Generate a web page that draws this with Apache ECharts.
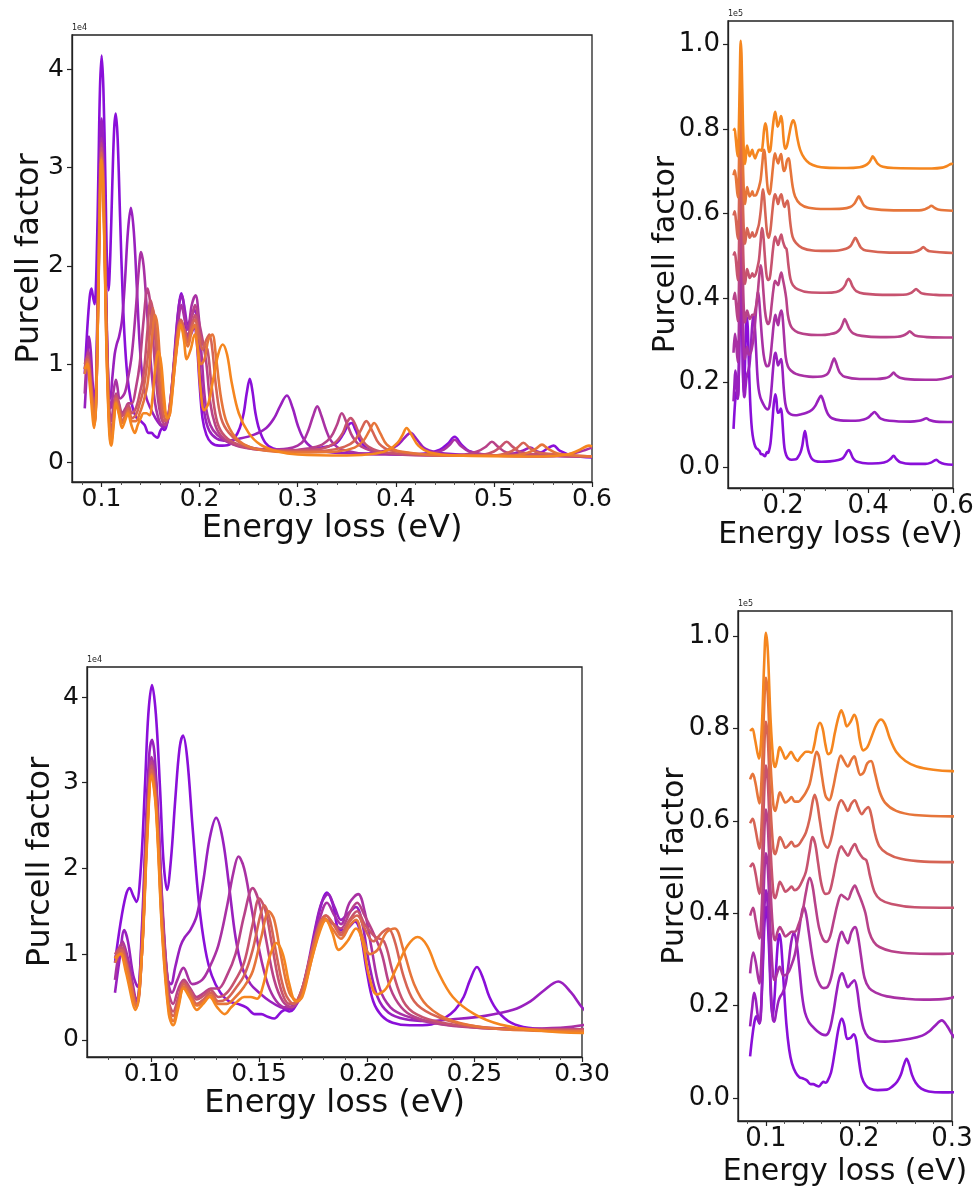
<!DOCTYPE html>
<html><head><meta charset="utf-8">
<script src="https://cdn.jsdelivr.net/npm/echarts@6/dist/echarts.min.js"></script>
<style>html,body{margin:0;padding:0;background:#fff}#c{width:977px;height:1193px}</style>
</head><body><div id="c"></div>
<script>
// Purcell factor in units of 1e4, energy loss in eV — eight spectra (purple -> orange)
const S0 = [[0.083,0.9],[0.0855,1.35],[0.088,1.68],[0.0898,1.77],[0.0915,1.68],[0.093,1.61],[0.095,2.0],[0.097,3.0],[0.0985,3.8],[0.1002,4.14],[0.102,3.8],[0.104,2.9],[0.1055,2.1],[0.1072,1.75],[0.109,2.1],[0.111,2.8],[0.113,3.4],[0.1146,3.55],[0.1165,3.3],[0.119,2.5],[0.122,1.6],[0.125,1.05],[0.128,0.75],[0.132,0.55],[0.136,0.45],[0.14,0.42],[0.144,0.38],[0.148,0.3],[0.151,0.3],[0.154,0.27],[0.157,0.25],[0.16,0.32],[0.162,0.35],[0.164,0.33],[0.166,0.36],[0.17,0.55],[0.174,1.0],[0.178,1.5],[0.1815,1.72],[0.184,1.6],[0.1875,1.28],[0.191,1.3],[0.1945,1.38],[0.197,1.25],[0.2,0.8],[0.203,0.45],[0.207,0.28],[0.212,0.2],[0.22,0.17],[0.23,0.18],[0.236,0.25],[0.241,0.35],[0.245,0.5],[0.248,0.7],[0.2512,0.85],[0.254,0.72],[0.257,0.5],[0.261,0.33],[0.267,0.2],[0.275,0.14],[0.29,0.12],[0.31,0.13],[0.33,0.16],[0.34,0.2],[0.346,0.28],[0.351,0.37],[0.355,0.4],[0.359,0.33],[0.365,0.2],[0.375,0.12],[0.4,0.08],[0.43,0.09],[0.445,0.13],[0.453,0.19],[0.46,0.26],[0.467,0.18],[0.476,0.11],[0.5,0.07],[0.535,0.07],[0.548,0.1],[0.556,0.15],[0.561,0.17],[0.567,0.12],[0.58,0.07],[0.6,0.05]];
const S1 = [[0.083,0.55],[0.0852,0.95],[0.0873,1.28],[0.089,1.15],[0.0915,0.75],[0.0935,0.62],[0.0955,1.3],[0.0975,2.6],[0.099,3.35],[0.1002,3.5],[0.1015,3.3],[0.1035,2.4],[0.1055,1.3],[0.1075,0.7],[0.109,0.65],[0.111,0.85],[0.1135,1.1],[0.1155,1.2],[0.118,1.28],[0.121,1.45],[0.124,1.85],[0.127,2.35],[0.13,2.59],[0.133,2.35],[0.136,1.8],[0.139,1.2],[0.142,0.85],[0.146,0.65],[0.15,0.55],[0.155,0.45],[0.16,0.38],[0.164,0.36],[0.168,0.45],[0.172,0.8],[0.176,1.3],[0.179,1.6],[0.182,1.7],[0.185,1.55],[0.188,1.4],[0.1915,1.48],[0.195,1.55],[0.198,1.35],[0.201,0.9],[0.205,0.5],[0.21,0.32],[0.218,0.24],[0.228,0.22],[0.24,0.24],[0.255,0.28],[0.268,0.35],[0.276,0.45],[0.282,0.57],[0.289,0.68],[0.295,0.55],[0.3,0.38],[0.306,0.24],[0.315,0.15],[0.335,0.1],[0.37,0.09],[0.39,0.12],[0.401,0.17],[0.409,0.25],[0.415,0.3],[0.421,0.24],[0.43,0.14],[0.45,0.09],[0.5,0.07],[0.52,0.09],[0.53,0.12],[0.537,0.15],[0.544,0.11],[0.56,0.07],[0.6,0.06]];
const S2 = [[0.083,0.7],[0.0865,1.15],[0.089,0.95],[0.093,0.48],[0.0955,1.2],[0.098,2.7],[0.1,3.3],[0.102,3.0],[0.105,1.6],[0.1075,0.7],[0.1095,0.55],[0.112,0.7],[0.1148,0.84],[0.119,0.65],[0.1235,0.7],[0.127,0.85],[0.131,1.1],[0.135,1.55],[0.138,1.95],[0.1404,2.14],[0.143,2.0],[0.146,1.6],[0.15,1.05],[0.154,0.65],[0.158,0.45],[0.162,0.38],[0.166,0.4],[0.17,0.6],[0.174,1.0],[0.178,1.4],[0.1815,1.6],[0.185,1.45],[0.188,1.35],[0.192,1.6],[0.196,1.7],[0.199,1.5],[0.202,1.1],[0.206,0.6],[0.211,0.38],[0.218,0.28],[0.23,0.2],[0.25,0.15],[0.27,0.13],[0.29,0.14],[0.3,0.17],[0.306,0.22],[0.311,0.33],[0.316,0.48],[0.32,0.57],[0.324,0.48],[0.329,0.33],[0.334,0.22],[0.345,0.13],[0.38,0.08],[0.42,0.08],[0.44,0.1],[0.449,0.13],[0.455,0.18],[0.46,0.23],[0.466,0.17],[0.475,0.11],[0.5,0.07],[0.55,0.06],[0.575,0.08],[0.588,0.11],[0.6,0.15]];
const S3 = [[0.083,0.95],[0.0862,1.12],[0.089,0.85],[0.093,0.45],[0.0955,1.1],[0.098,2.6],[0.1,3.25],[0.102,2.9],[0.105,1.5],[0.108,0.55],[0.11,0.42],[0.1125,0.6],[0.115,0.7],[0.118,0.6],[0.121,0.5],[0.1245,0.55],[0.1275,0.6],[0.131,0.6],[0.135,0.75],[0.139,1.0],[0.143,1.45],[0.147,1.77],[0.15,1.6],[0.153,1.2],[0.157,0.7],[0.161,0.45],[0.165,0.38],[0.169,0.5],[0.173,0.85],[0.177,1.2],[0.181,1.4],[0.1845,1.35],[0.188,1.3],[0.192,1.48],[0.1955,1.6],[0.199,1.45],[0.203,1.25],[0.207,1.0],[0.211,0.6],[0.216,0.38],[0.222,0.27],[0.235,0.18],[0.26,0.13],[0.29,0.12],[0.31,0.14],[0.325,0.18],[0.334,0.26],[0.34,0.38],[0.345,0.5],[0.35,0.4],[0.356,0.26],[0.365,0.16],[0.385,0.1],[0.43,0.07],[0.47,0.08],[0.483,0.11],[0.492,0.16],[0.498,0.21],[0.504,0.16],[0.513,0.1],[0.54,0.07],[0.6,0.06]];
const S4 = [[0.083,1.0],[0.0858,1.08],[0.0885,0.9],[0.093,0.42],[0.0955,1.0],[0.098,2.5],[0.1,3.2],[0.102,2.85],[0.105,1.4],[0.108,0.45],[0.11,0.33],[0.1125,0.5],[0.115,0.68],[0.118,0.58],[0.121,0.47],[0.1245,0.52],[0.1275,0.58],[0.131,0.5],[0.135,0.55],[0.139,0.7],[0.143,0.9],[0.147,1.35],[0.15,1.65],[0.153,1.5],[0.156,1.1],[0.16,0.6],[0.164,0.42],[0.168,0.45],[0.172,0.75],[0.176,1.15],[0.181,1.45],[0.1845,1.35],[0.188,1.25],[0.192,1.4],[0.1955,1.5],[0.199,1.35],[0.204,1.2],[0.208,1.15],[0.212,0.8],[0.217,0.45],[0.223,0.3],[0.235,0.2],[0.26,0.13],[0.3,0.12],[0.325,0.14],[0.338,0.2],[0.346,0.3],[0.35,0.4],[0.354,0.45],[0.358,0.4],[0.364,0.26],[0.372,0.16],[0.39,0.1],[0.45,0.07],[0.49,0.08],[0.5,0.11],[0.507,0.16],[0.513,0.21],[0.519,0.16],[0.528,0.1],[0.56,0.07],[0.6,0.06]];
const S5 = [[0.083,0.95],[0.0858,1.05],[0.0885,0.85],[0.093,0.4],[0.0955,1.0],[0.098,2.45],[0.1,3.15],[0.102,2.8],[0.105,1.3],[0.108,0.4],[0.11,0.28],[0.1125,0.45],[0.115,0.65],[0.118,0.55],[0.121,0.42],[0.1245,0.48],[0.1275,0.55],[0.131,0.45],[0.135,0.48],[0.139,0.6],[0.143,0.75],[0.147,1.05],[0.1505,1.45],[0.1524,1.57],[0.155,1.4],[0.158,1.0],[0.162,0.55],[0.166,0.42],[0.17,0.6],[0.174,1.0],[0.178,1.35],[0.181,1.45],[0.1845,1.35],[0.188,1.22],[0.192,1.38],[0.1955,1.45],[0.199,1.3],[0.203,1.15],[0.207,1.25],[0.21,1.3],[0.213,1.15],[0.217,0.75],[0.222,0.45],[0.23,0.3],[0.245,0.18],[0.27,0.12],[0.3,0.11],[0.33,0.12],[0.348,0.16],[0.358,0.22],[0.364,0.32],[0.37,0.42],[0.376,0.32],[0.383,0.19],[0.395,0.12],[0.45,0.07],[0.5,0.07],[0.515,0.1],[0.524,0.15],[0.53,0.2],[0.536,0.15],[0.545,0.1],[0.6,0.06]];
const S6 = [[0.083,0.9],[0.0858,1.02],[0.0885,0.85],[0.093,0.38],[0.0955,1.0],[0.098,2.4],[0.1,3.1],[0.102,2.75],[0.105,1.25],[0.108,0.35],[0.11,0.22],[0.1125,0.42],[0.115,0.62],[0.118,0.5],[0.121,0.4],[0.1245,0.45],[0.1275,0.52],[0.131,0.42],[0.135,0.42],[0.139,0.5],[0.143,0.62],[0.147,0.8],[0.151,1.2],[0.1545,1.5],[0.157,1.4],[0.16,1.0],[0.164,0.55],[0.168,0.45],[0.172,0.7],[0.176,1.1],[0.1805,1.42],[0.184,1.3],[0.188,1.18],[0.192,1.33],[0.195,1.4],[0.198,1.2],[0.2015,1.0],[0.205,1.05],[0.209,1.25],[0.213,1.3],[0.217,1.05],[0.222,0.65],[0.228,0.4],[0.24,0.22],[0.26,0.13],[0.3,0.1],[0.34,0.11],[0.358,0.15],[0.367,0.22],[0.373,0.32],[0.378,0.4],[0.384,0.3],[0.391,0.18],[0.405,0.11],[0.46,0.07],[0.52,0.07],[0.535,0.1],[0.543,0.14],[0.549,0.18],[0.555,0.14],[0.565,0.09],[0.6,0.06]];
const S7 = [[0.083,0.95],[0.0855,1.0],[0.088,0.8],[0.0925,0.35],[0.0955,1.0],[0.098,2.35],[0.1,3.08],[0.102,2.7],[0.105,1.2],[0.108,0.3],[0.11,0.17],[0.1125,0.38],[0.1148,0.6],[0.118,0.48],[0.121,0.35],[0.124,0.42],[0.127,0.5],[0.1305,0.38],[0.134,0.3],[0.137,0.38],[0.14,0.45],[0.143,0.5],[0.146,0.5],[0.149,0.48],[0.152,0.65],[0.155,0.98],[0.158,1.13],[0.161,1.0],[0.164,0.65],[0.167,0.45],[0.17,0.5],[0.174,0.9],[0.178,1.25],[0.181,1.4],[0.184,1.25],[0.187,1.05],[0.191,1.15],[0.195,1.3],[0.198,1.15],[0.201,0.75],[0.2047,0.53],[0.209,0.6],[0.214,0.85],[0.219,1.1],[0.2236,1.2],[0.228,1.1],[0.233,0.8],[0.24,0.5],[0.25,0.3],[0.262,0.18],[0.28,0.11],[0.3,0.08],[0.35,0.07],[0.38,0.09],[0.393,0.13],[0.402,0.2],[0.407,0.28],[0.411,0.35],[0.416,0.28],[0.423,0.17],[0.435,0.1],[0.46,0.07],[0.55,0.06],[0.575,0.08],[0.586,0.12],[0.597,0.17],[0.6,0.16]];

const spectra = [S0, S1, S2, S3, S4, S5, S6, S7];
const stackOffsets = [0, 1, 2, 3, 4, 5, 6, 7];   // vertical offsets in units of 1e4
const colors = ['#8a0fd9','#9920be','#a931a4','#b84289','#c7536f','#d66454','#e6753a','#f5861f'];

const xTicksWide = [0.1, 0.2, 0.3, 0.4, 0.5, 0.6];
const xMinorWide = [0.08,0.12,0.14,0.16,0.18,0.22,0.24,0.26,0.28,0.32,0.34,0.36,0.38,0.42,0.44,0.46,0.48,0.52,0.54,0.56,0.58];
const xTicksStackWide = [0.2, 0.4, 0.6];
const xMinorStackWide = [0.1, 0.15, 0.25, 0.3, 0.35, 0.45, 0.5, 0.55];
const xTicksZoom = [0.10, 0.15, 0.20, 0.25, 0.30];
const xMinorZoom = [0.08,0.09,0.11,0.12,0.13,0.14,0.16,0.17,0.18,0.19,0.21,0.22,0.23,0.24,0.26,0.27,0.28,0.29];
const xTicksStackZoom = [0.1, 0.2, 0.3];
const xMinorStackZoom = [0.08,0.12,0.14,0.16,0.18,0.22,0.24,0.26,0.28];
const yTicksOverlay = [0, 1, 2, 3, 4];
const yTicksStack = [0.0, 0.2, 0.4, 0.6, 0.8, 1.0];

const FONT = 'DejaVu Sans';
const panels = [
  {grid:{left:72, top:35, width:520, height:447}, x:[0.07,0.6], y:[-0.2,4.35], xt:xTicksWide, xm:xMinorWide, xf:1, yt:yTicksOverlay, yf:0, stacked:false, exp:'1e4', tf:25, nf:32, xGap:25, yGap:26},
  {grid:{left:728, top:21, width:225, height:467}, x:[0.07,0.6], y:[-0.05,1.055], xt:xTicksStackWide, xm:xMinorStackWide, xf:1, yt:yTicksStack, yf:1, stacked:true, exp:'1e5', tf:26, nf:30, xGap:30, yGap:47},
  {grid:{left:87, top:667, width:495, height:390}, x:[0.07,0.30], y:[-0.2,4.35], xt:xTicksZoom, xm:xMinorZoom, xf:2, yt:yTicksOverlay, yf:0, stacked:false, exp:'1e4', tf:25, nf:32, xGap:20, yGap:30},
  {grid:{left:738, top:611, width:214, height:510}, x:[0.07,0.30], y:[-0.05,1.055], xt:xTicksStackZoom, xm:xMinorStackZoom, xf:1, yt:yTicksStack, yf:1, stacked:true, exp:'1e5', tf:26, nf:30, xGap:36, yGap:48}
];

const grid = [], xAxis = [], yAxis = [], series = [], graphic = [];
panels.forEach((p, g) => {
  grid.push(Object.assign({show:true, borderColor:'#222', borderWidth:1.3, backgroundColor:'#fff', containLabel:false, outerBoundsMode:'none'}, p.grid));
  xAxis.push({type:'value', gridIndex:g, position:'bottom', min:p.x[0], max:p.x[1],
    name:'Energy loss (eV)', nameLocation:'middle', nameGap:p.xGap,
    nameTextStyle:{fontFamily:FONT, fontSize:p.nf, color:'#111', verticalAlign:'top'},
    axisLine:{show:true, onZero:false, lineStyle:{color:'#222', width:1.3}},
    axisTick:{show:true, length:5, customValues:p.xt, lineStyle:{color:'#222', width:1.2}},
    axisLabel:{show:true, customValues:p.xt, margin:5, fontFamily:FONT, fontSize:p.tf, color:'#111', formatter:v => Number(v).toFixed(p.xf)},
    splitLine:{show:false}});
  xAxis.push({type:'value', gridIndex:g, position:'bottom', min:p.x[0], max:p.x[1],
    axisLine:{show:false, onZero:false}, axisLabel:{show:false}, splitLine:{show:false},
    axisTick:{show:true, length:3, customValues:p.xm, lineStyle:{color:'#444', width:0.9}}});
  yAxis.push({type:'value', gridIndex:g, min:p.y[0], max:p.y[1],
    name:'Purcell factor', nameLocation:'middle', nameGap:p.yGap, nameRotate:90, nameMoveOverlap:false,
    nameTextStyle:{fontFamily:FONT, fontSize:p.nf, color:'#111'},
    axisLine:{show:true, onZero:false, lineStyle:{color:'#222', width:1.3}},
    axisTick:{show:true, length:5, customValues:p.yt, lineStyle:{color:'#222', width:1.2}},
    axisLabel:{show:true, customValues:p.yt, margin:8, fontFamily:FONT, fontSize:p.tf, color:'#111', formatter:v => Number(v).toFixed(p.yf)},
    splitLine:{show:false}});
  graphic.push({type:'text', left:p.grid.left, top:p.grid.top - 11,
    style:{text:p.exp, fontFamily:FONT, fontSize:8, fill:'#222'}});
  spectra.forEach((s, k) => {
    const data = p.stacked ? s.map(d => [d[0], (d[1] + stackOffsets[k]) / 10]) : s;
    series.push({type:'line', xAxisIndex:2*g, yAxisIndex:g, data, showSymbol:false, smooth:0.35,
      clip:true, lineStyle:{color:colors[k], width:2.6}, itemStyle:{color:colors[k]}, z:2+k, silent:true});
  });
});

const chart = echarts.init(document.getElementById('c'), null, {renderer:'canvas', width:977, height:1193});
chart.setOption({animation:false, backgroundColor:'#fff', grid, xAxis, yAxis, series, graphic});
</script></body></html>
